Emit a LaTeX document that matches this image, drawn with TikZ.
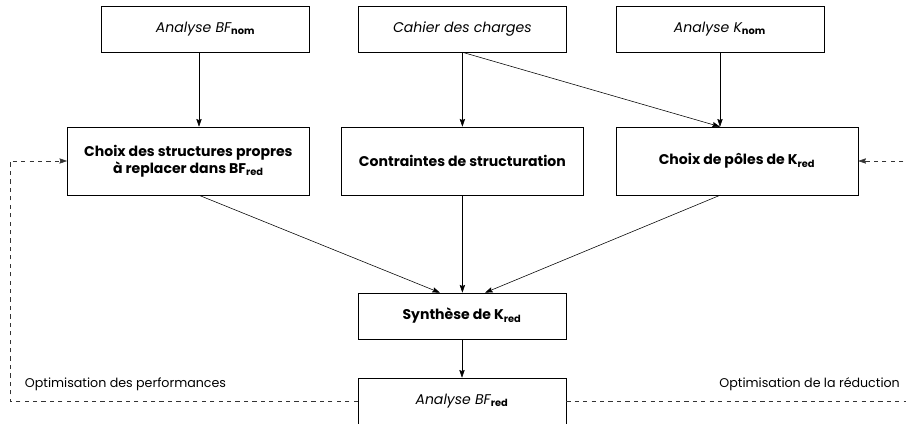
\documentclass[tikz,border=0pt]{standalone}
\usepackage{fontspec}
\setmainfont{Poppins}
\usepackage{amsmath}
\usepackage{tikz}
\usetikzlibrary{arrows.meta,positioning}

\newcommand{\idx}[1]{$_{\textnormal{\bfseries #1}}$}

\begin{document}
\begin{tikzpicture}[
  src/.style={rectangle, draw, align=center,
              minimum width=5.2cm, minimum height=1.15cm,
              font=\itshape},
  task/.style={rectangle, draw, align=center,
               minimum width=6.05cm, minimum height=1.7cm,
               font=\bfseries},
  arrow/.style={-{Stealth[length=5.5pt, width=3.8pt, inset=0.8pt]}},
  loopback/.style={arrow, dashed, black!80}
]
\useasboundingbox (0,0) rectangle (22.65,10.6);

\node[src] (bfnom) at (5.14, 9.875) {Analyse BF\idx{nom}};
\node[src] (cdc) at (11.56, 9.875) {Cahier des charges};
\node[src] (knom) at (18.0, 9.875) {Analyse K\idx{nom}};

\node[task] (choixbf) at (4.71, 6.575)
  {Choix des structures propres\\à replacer dans BF\idx{red}};
\node[task] (contr) at (11.56, 6.575) {Contraintes de structuration};
\node[task] (choixk) at (18.425, 6.575) {Choix de pôles de K\idx{red}};

\node[src, font=\bfseries] (synth) at (11.55, 2.7) {Synthèse de K\idx{red}};
\node[src] (bfred) at (11.55, 0.575) {Analyse BF\idx{red}};

\draw[arrow] ([xshift=-0.165cm]bfnom.south) -- ([xshift=-0.165cm]bfnom.south |- choixbf.north);
\draw[arrow] (cdc.south) -- (cdc.south |- contr.north);
\draw[arrow] (cdc.south) -- (knom.south |- choixk.north);
\draw[arrow] (knom.south) -- (knom.south |- choixk.north);

\draw[arrow] ([xshift=-0.165cm]bfnom.south |- choixbf.south) -- ([xshift=-0.55cm]synth.north);
\draw[arrow] (contr.south) -- (contr.south |- synth.north);
\draw[arrow] (knom.south |- choixk.south) -- ([xshift=0.575cm]synth.north);
\draw[arrow] (synth) -- (bfred);

% boucles d'optimisation
\coordinate (lft) at (0.25, 0);
\coordinate (rgt) at (22.75, 0);
\draw[loopback] (bfred.west) -- (bfred.west -| lft) |- (choixbf.west);
\draw[loopback] (bfred.east) -- (bfred.east -| rgt) |- (choixk.east);

\node[anchor=west, font=\small] (perf) at (0.5, 1.0) {Optimisation des performances};
\node[anchor=east, font=\small] (reduc) at (22.62, 1.0) {Optimisation de la réduction};

\end{tikzpicture}
\end{document}
